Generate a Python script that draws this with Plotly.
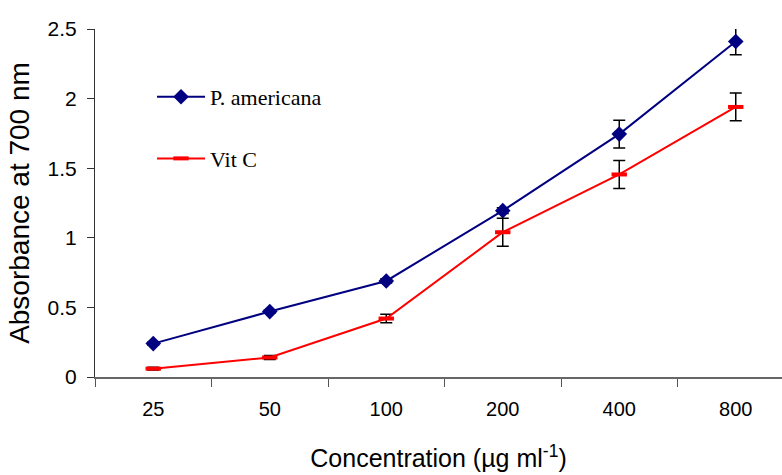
import plotly.graph_objects as go

categories = ["25", "50", "100", "200", "400", "800"]
p_americana = [0.24, 0.47, 0.69, 1.195, 1.745, 2.41]
p_americana_err = [0.01, 0.01, 0.015, 0.02, 0.10, 0.095]
vit_c = [0.06, 0.14, 0.42, 1.04, 1.455, 1.94]
vit_c_err = [0.01, 0.015, 0.03, 0.10, 0.10, 0.10]
y_ticks = [0, 0.5, 1, 1.5, 2, 2.5]
y_tick_text = ["0", "0.5", "1", "1.5", "2", "2.5"]

fig = go.Figure()

fig.add_trace(go.Scatter(
    x=categories, y=p_americana, name="P. americana", mode="lines+markers",
    legendgroup="a",
    line=dict(color="#000080", width=2),
    marker=dict(symbol="diamond", size=12, color="#000080"),
    error_y=dict(type="data", array=p_americana_err, visible=True,
                 color="black", thickness=1.5, width=6),
))
fig.add_trace(go.Scatter(
    x=categories, y=vit_c, name="Vit C", mode="lines+markers",
    legendgroup="b",
    line=dict(color="#ff0000", width=2),
    marker=dict(symbol="line-ew", size=11, color="#ff0000",
                line=dict(color="#ff0000", width=4)),
    error_y=dict(type="data", array=vit_c_err, visible=True,
                 color="black", thickness=1.5, width=6),
))

fig.update_layout(
    width=782, height=475,
    margin=dict(l=95, r=0, t=29, b=98),
    plot_bgcolor="white", paper_bgcolor="white",
    font=dict(family="Arial, Liberation Sans, sans-serif", color="black"),
    showlegend=True,
    legend=dict(
        x=0.083, y=0.865, xanchor="left", yanchor="top",
        traceorder="grouped", tracegroupgap=30,
        itemwidth=48,
        bgcolor="rgba(0,0,0,0)",
        font=dict(family="Times New Roman, Liberation Serif, serif", size=22, color="black"),
    ),
    xaxis=dict(
        type="category", range=[-0.5, 5.397], automargin=False,
        tickson="boundaries", ticks="outside", ticklen=8, tickcolor="#555",
        showline=True, linecolor="#666", linewidth=1.5,
        showgrid=False, zeroline=False,
        tickfont=dict(size=20), ticklabelstandoff=13,
        title=dict(text="Concentration (µg ml<sup>-1</sup>)",
                   font=dict(size=25),
                   standoff=31),
    ),
    yaxis=dict(
        range=[0, 2.5], tickvals=y_ticks, ticktext=y_tick_text, automargin=False,
        ticks="outside", ticklen=7, tickcolor="#333",
        showline=True, linecolor="#333", linewidth=1,
        showgrid=False, zeroline=False,
        tickfont=dict(size=21), ticklabelstandoff=6,
        title=dict(text="Absorbance at 700 nm", font=dict(size=28), standoff=9),
    ),
)

fig.write_html("out.html", config={"displayModeBar": False},
               post_script="document.body.style.margin='0';")
